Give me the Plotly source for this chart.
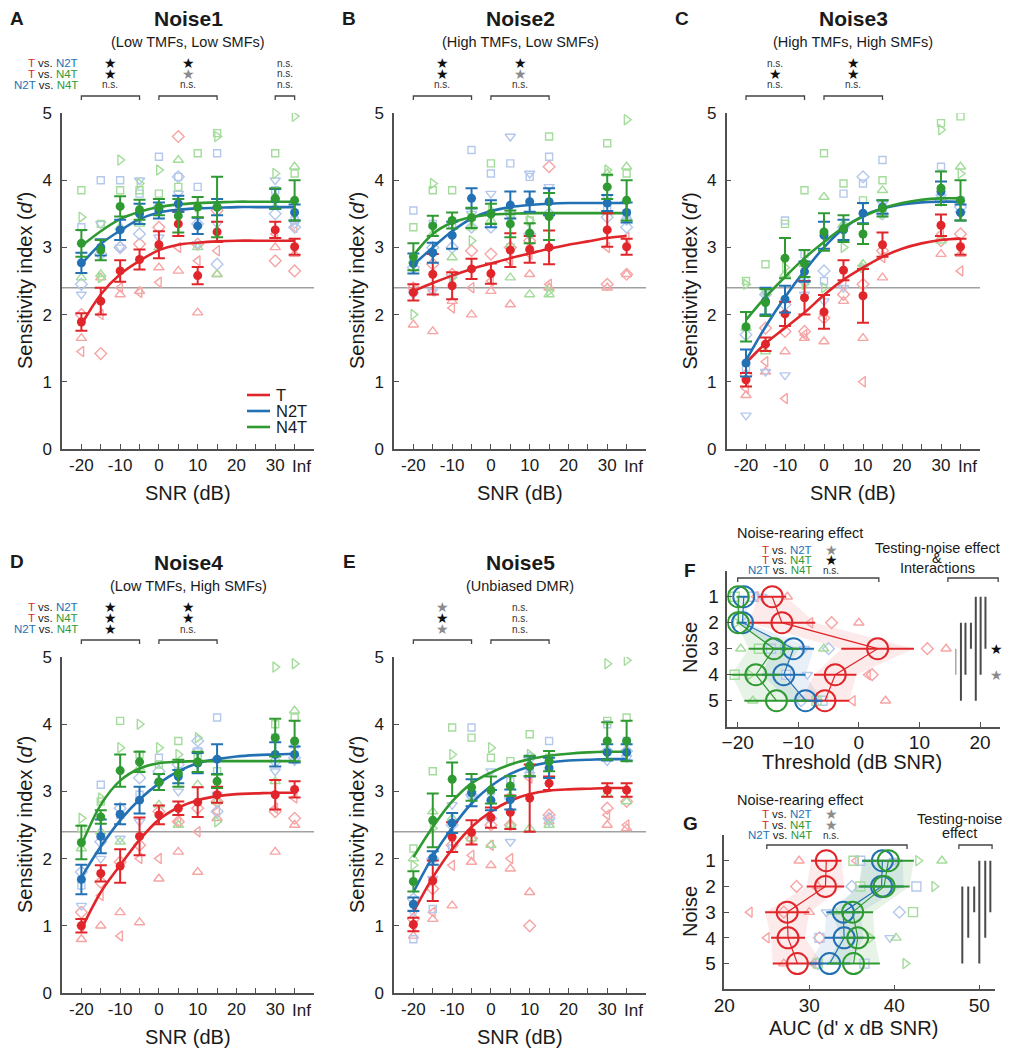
import plotly.graph_objects as go

# page is 1012 x 1050; the html body adds an 8 px margin, so the figure itself is 8 px smaller
PAGE_W, PAGE_H = 1012, 1050
OFF = 8
W, H = PAGE_W - OFF, PAGE_H - OFF
FONT = 'Arial, Liberation Sans, Helvetica, sans-serif'
RED, BLUE, GREEN = '#e0262a', '#2271b5', '#2f9a31'
RED_L, BLUE_L, GREEN_L = '#f7a4a4', '#b4c8ec', '#a4dc9c'
RED_F, BLUE_F, GREEN_F = 'rgba(240,90,90,0.12)', 'rgba(70,120,190,0.12)', 'rgba(60,160,60,0.12)'
AXC = '#505050'
TXT = '#1a1a1a'

# ---------------- panels A-E : sensitivity index vs SNR ----------------
snr = [-20, -15, -10, -5, 0, 5, 10, 15, 30, 35]          # 35 plotted as "Inf"
snr_ticks = [-20, -15, -10, -5, 0, 5, 10, 15, 20, 25, 30, 35]
snr_text = ['-20', '', '-10', '', '0', '', '10', '', '20', '', '30', '']
fit_snr = [-20, -15, -10, -5, 0, 5, 10, 15, 20, 25, 30, 35]

# Noise1
n1_t = [1.89, 2.20, 2.65, 2.82, 3.04, 3.35, 2.58, 3.23, 3.26, 3.01]
n1_t_err = [0.13, 0.2, 0.16, 0.15, 0.2, 0.18, 0.13, 0.15, 0.12, 0.12]
n1_n2t = [2.77, 3.0, 3.26, 3.5, 3.55, 3.65, 3.32, 3.6, 3.72, 3.52]
n1_n2t_err = [0.15, 0.12, 0.15, 0.15, 0.12, 0.12, 0.12, 0.12, 0.15, 0.12]
n1_n4t = [3.06, 2.96, 3.61, 3.56, 3.6, 3.47, 3.6, 3.6, 3.73, 3.7]
n1_n4t_err = [0.2, 0.15, 0.15, 0.15, 0.12, 0.25, 0.15, 0.45, 0.15, 0.3]
n1_t_fit = [1.85, 2.3, 2.6, 2.8, 2.96, 3.04, 3.07, 3.09, 3.1, 3.1, 3.1, 3.1]
n1_n2t_fit = [2.75, 3.05, 3.25, 3.42, 3.52, 3.56, 3.58, 3.59, 3.6, 3.6, 3.6, 3.6]
n1_n4t_fit = [3.02, 3.24, 3.42, 3.53, 3.6, 3.64, 3.66, 3.67, 3.68, 3.68, 3.68, 3.68]
n1_t_ind = [[1.65, 2.55, 2.3, 2.35, 2.7, 2.65, 2.03, 2.6, 3.0, 2.9],
            [1.45, 2.0, 2.4, 2.33, 2.48, 3.0, 2.8, 2.95, 3.2, 3.3],
            [2.0, 1.42, 3.0, 3.05, 3.3, 4.65, 3.05, 3.55, 2.8, 2.65]]
n1_n2t_ind = [[3.3, 4.0, 4.0, 3.8, 4.35, 4.05, 3.9, 4.4, 3.85, 3.4],
              [2.3, 3.35, 3.0, 4.0, 3.15, 3.8, 3.05, 3.35, 4.0, 3.35],
              [2.45, 2.9, 3.0, 3.2, 3.6, 4.05, 3.35, 2.75, 3.5, 3.3]]
n1_n4t_ind = [[3.85, 3.35, 3.85, 3.85, 3.8, 3.9, 4.4, 4.7, 4.4, 4.1],
              [3.45, 2.55, 4.3, 3.95, 4.15, 3.55, 3.6, 4.65, 4.1, 4.95],
              [2.55, 2.6, 3.3, 3.35, 3.0, 4.3, 3.0, 2.6, 3.6, 4.2]]
n1_stats = [['k', 'k', 'ns'], ['k', 'g', 'ns'], ['ns', 'ns', 'ns']]

# Noise2
n2_t = [2.33, 2.6, 2.43, 2.68, 2.61, 2.96, 2.97, 3.0, 3.26, 3.01]
n2_t_err = [0.12, 0.3, 0.2, 0.15, 0.15, 0.25, 0.2, 0.25, 0.25, 0.12]
n2_n2t = [2.76, 2.92, 3.18, 3.73, 3.5, 3.63, 3.68, 3.68, 3.66, 3.52]
n2_n2t_err = [0.15, 0.15, 0.2, 0.15, 0.2, 0.2, 0.15, 0.2, 0.12, 0.15]
n2_n4t = [2.86, 3.32, 3.4, 3.44, 3.5, 3.35, 3.21, 3.46, 3.9, 3.7]
n2_n4t_err = [0.2, 0.15, 0.12, 0.15, 0.15, 0.2, 0.15, 0.35, 0.18, 0.3]
n2_t_fit = [2.35, 2.47, 2.58, 2.68, 2.76, 2.84, 2.91, 2.98, 3.04, 3.09, 3.14, 3.17]
n2_n2t_fit = [2.74, 3.0, 3.24, 3.43, 3.54, 3.6, 3.63, 3.65, 3.66, 3.66, 3.66, 3.66]
n2_n4t_fit = [2.88, 3.2, 3.37, 3.45, 3.49, 3.5, 3.51, 3.51, 3.51, 3.51, 3.51, 3.51]
n2_t_ind = [[1.85, 1.75, 2.2, 2.0, 2.35, 2.15, 2.6, 2.4, 2.4, 2.6],
            [2.35, 2.35, 2.1, 2.4, 2.5, 2.8, 2.9, 2.45, 3.0, 3.15],
            [2.4, 2.75, 2.6, 2.95, 2.9, 3.0, 3.1, 4.2, 2.45, 2.6]]
n2_n2t_ind = [[3.55, 3.35, 3.35, 4.45, 4.1, 4.25, 4.05, 4.35, 3.6, 3.5],
              [2.3, 2.35, 2.55, 3.5, 3.8, 4.65, 4.1, 3.9, 3.75, 3.4],
              [2.7, 3.0, 3.0, 3.3, 3.3, 3.5, 3.2, 3.5, 3.45, 3.3]]
n2_n4t_ind = [[3.3, 3.85, 3.85, 3.45, 4.25, 3.0, 3.4, 4.65, 4.55, 4.1],
              [2.0, 3.95, 2.55, 3.1, 3.55, 3.45, 3.4, 2.35, 4.15, 4.9],
              [2.8, 3.2, 2.85, 3.3, 3.4, 2.55, 2.3, 2.3, 4.1, 4.2]]
n2_stats = [['k', 'k', 'ns'], ['k', 'g', 'ns']]

# Noise3
n3_t = [1.03, 1.56, 2.01, 2.25, 2.04, 2.66, 2.28, 3.04, 3.33, 3.01]
n3_t_err = [0.1, 0.1, 0.18, 0.25, 0.25, 0.15, 0.4, 0.18, 0.16, 0.12]
n3_n2t = [1.28, 2.2, 2.23, 2.64, 3.18, 3.26, 3.51, 3.6, 3.83, 3.52]
n3_n2t_err = [0.2, 0.2, 0.2, 0.15, 0.2, 0.15, 0.15, 0.1, 0.15, 0.12]
n3_n4t = [1.82, 2.18, 2.84, 2.76, 3.23, 3.28, 3.2, 3.58, 3.88, 3.7]
n3_n4t_err = [0.22, 0.2, 0.3, 0.2, 0.28, 0.2, 0.15, 0.12, 0.25, 0.3]
n3_t_fit = [1.28, 1.57, 1.8, 2.03, 2.29, 2.52, 2.7, 2.86, 2.98, 3.06, 3.11, 3.13]
n3_n2t_fit = [1.32, 1.82, 2.26, 2.65, 3.0, 3.28, 3.47, 3.58, 3.64, 3.67, 3.68, 3.68]
n3_n4t_fit = [1.92, 2.26, 2.56, 2.84, 3.08, 3.3, 3.46, 3.58, 3.66, 3.71, 3.73, 3.73]
n3_t_ind = [[0.8, 1.15, 1.45, 1.65, 1.6, 2.2, 1.65, 2.55, 2.9, 2.9],
            [0.9, 1.3, 0.75, 1.7, 2.0, 2.45, 1.0, 2.85, 3.2, 2.65],
            [1.1, 1.8, 1.75, 1.75, 1.95, 2.3, 2.45, 2.95, 3.1, 3.2]]
n3_n2t_ind = [[1.2, 2.35, 3.4, 2.9, 2.5, 3.8, 3.95, 4.3, 4.2, 3.7],
              [0.5, 1.15, 1.1, 2.3, 2.2, 2.4, 2.7, 3.65, 3.75, 3.5],
              [1.7, 2.3, 2.15, 2.5, 2.65, 3.3, 4.05, 3.5, 3.7, 3.6]]
n3_n4t_ind = [[2.5, 2.75, 3.35, 3.85, 4.4, 3.95, 3.7, 4.0, 4.85, 4.95],
              [2.45, 2.3, 2.7, 2.45, 2.4, 3.0, 2.7, 3.5, 4.75, 4.1],
              [1.8, 1.45, 2.6, 2.75, 3.75, 3.35, 2.75, 3.85, 3.1, 4.2]]
n3_stats = [['ns', 'k', 'ns'], ['k', 'k', 'ns']]

# Noise4
n4_t = [1.0, 1.78, 1.89, 2.33, 2.65, 2.75, 2.84, 2.95, 2.95, 3.03]
n4_t_err = [0.1, 0.12, 0.25, 0.28, 0.14, 0.1, 0.22, 0.12, 0.22, 0.12]
n4_n2t = [1.69, 2.33, 2.66, 2.87, 3.14, 3.22, 3.42, 3.48, 3.55, 3.55]
n4_n2t_err = [0.22, 0.25, 0.15, 0.2, 0.12, 0.1, 0.15, 0.22, 0.18, 0.12]
n4_n4t = [2.24, 2.62, 3.31, 3.44, 3.14, 3.27, 3.44, 3.15, 3.8, 3.75]
n4_n4t_err = [0.25, 0.1, 0.24, 0.15, 0.12, 0.2, 0.15, 0.1, 0.28, 0.3]
n4_t_fit = [0.95, 1.5, 1.9, 2.28, 2.58, 2.76, 2.87, 2.93, 2.96, 2.97, 2.98, 2.98]
n4_n2t_fit = [1.72, 2.18, 2.57, 2.88, 3.12, 3.3, 3.42, 3.48, 3.52, 3.54, 3.55, 3.56]
n4_n4t_fit = [2.2, 2.8, 3.16, 3.34, 3.42, 3.44, 3.45, 3.45, 3.45, 3.45, 3.45, 3.45]
n4_t_ind = [[0.8, 1.0, 1.2, 1.05, 1.7, 2.1, 1.8, 2.6, 2.1, 2.5],
            [1.0, 1.45, 0.85, 2.0, 2.0, 2.55, 2.4, 2.7, 2.75, 2.9],
            [1.2, 1.65, 1.95, 2.2, 2.7, 2.55, 2.75, 2.85, 2.7, 2.6]]
n4_n2t_ind = [[1.6, 3.1, 2.65, 2.95, 3.5, 3.3, 3.6, 4.1, 3.8, 3.7],
              [1.3, 2.0, 2.3, 2.55, 3.1, 3.0, 3.6, 2.95, 3.3, 3.45],
              [1.8, 2.25, 2.75, 3.2, 3.3, 3.4, 3.75, 2.7, 3.45, 3.5]]
n4_n4t_ind = [[2.45, 2.85, 4.05, 3.55, 3.4, 3.75, 3.5, 3.3, 4.0, 4.1],
              [2.6, 2.9, 3.65, 4.0, 3.65, 3.55, 3.8, 2.55, 4.85, 4.9],
              [2.15, 2.4, 2.25, 3.35, 2.8, 2.5, 3.1, 2.85, 3.15, 4.2]]
n4_stats = [['k', 'k', 'k'], ['k', 'k', 'ns']]

# Noise5
n5_t = [1.02, 1.67, 2.32, 2.39, 2.61, 2.69, 2.9, 3.12, 3.02, 3.02]
n5_t_err = [0.1, 0.3, 0.22, 0.18, 0.15, 0.25, 0.5, 0.1, 0.1, 0.1]
n5_n2t = [1.32, 2.01, 2.53, 2.98, 2.87, 2.88, 3.37, 3.35, 3.58, 3.58]
n5_n2t_err = [0.1, 0.1, 0.15, 0.2, 0.15, 0.15, 0.15, 0.15, 0.12, 0.12]
n5_n4t = [1.66, 2.57, 3.18, 3.06, 3.02, 3.08, 3.38, 3.45, 3.75, 3.75]
n5_n4t_err = [0.15, 0.4, 0.25, 0.2, 0.2, 0.15, 0.15, 0.15, 0.28, 0.3]
n5_t_fit = [1.2, 1.72, 2.14, 2.47, 2.7, 2.86, 2.96, 3.01, 3.03, 3.04, 3.05, 3.05]
n5_n2t_fit = [1.5, 2.03, 2.46, 2.82, 3.08, 3.26, 3.37, 3.43, 3.46, 3.47, 3.48, 3.48]
n5_n4t_fit = [2.02, 2.47, 2.85, 3.12, 3.28, 3.4, 3.48, 3.53, 3.56, 3.58, 3.59, 3.59]
n5_t_ind = [[0.85, 1.1, 1.3, 1.95, 1.9, 1.85, 1.5, 2.55, 2.5, 2.45],
            [1.0, 1.2, 1.9, 2.05, 2.2, 2.0, 3.2, 2.6, 2.65, 2.5],
            [1.1, 1.55, 2.2, 2.3, 2.5, 2.5, 1.0, 2.65, 2.75, 2.85]]
n5_n2t_ind = [[0.8, 1.25, 2.15, 3.95, 3.0, 3.15, 3.35, 3.75, 4.0, 3.75],
              [1.2, 1.7, 2.8, 2.9, 3.3, 2.25, 3.25, 2.55, 3.45, 3.5],
              [1.4, 2.0, 2.5, 2.95, 2.6, 2.9, 3.5, 2.6, 3.6, 3.6]]
n5_n4t_ind = [[2.15, 3.3, 3.95, 3.8, 3.5, 3.45, 3.85, 3.5, 4.05, 4.1],
              [1.9, 2.45, 3.55, 3.0, 3.65, 2.9, 3.55, 3.45, 4.9, 4.95],
              [2.0, 2.7, 2.6, 2.3, 2.2, 2.5, 2.45, 2.5, 2.95, 2.85]]
n5_stats = [['g', 'k', 'g'], ['ns', 'ns', 'ns']]

bracket_ranges = [(-20, -5), (0, 15), (30, 35)]

# ---------------- panels F, G : threshold and AUC per noise ----------------
noise = [1, 2, 3, 4, 5]
f_t = [-14.3, -12.7, 3.1, -3.9, -5.6]
f_t_err = [2.3, 5.5, 6.0, 3.5, 4.0]
f_n2t = [-19.0, -19.2, -10.8, -12.4, -8.8]
f_n2t_err = [0.7, 0.7, 3.4, 3.6, 2.8]
f_n4t = [-19.9, -19.9, -14.0, -17.0, -13.6]
f_n4t_err = [0.3, 0.3, 4.2, 4.0, 5.3]
f_t_pts_noise = [1, 1, 2, 2, 2, 3, 3, 4, 4, 5, 5]
f_t_pts = [-11.8, -17.0, -4.5, 0.0, -8.0, 11.3, 14.4, 1.5, 2.2, 4.4, -1.0]
f_n2t_pts_noise = [1, 1, 2, 3, 3, 3, 4, 4, 5, 5]
f_n2t_pts = [-17.5, -16.0, -18.5, -14.5, -9.0, -5.0, -12.0, -8.5, -9.5, -6.0]
f_n4t_pts_noise = [1, 2, 3, 3, 3, 3, 4, 4, 5, 5]
f_n4t_pts = [-20.5, -20.3, -19.5, -16.5, -12.5, -5.8, -20.5, -18.0, -17.5, -7.0]
f_sig_x = [16.0, 16.85, 17.6, 18.5, 19.3, 20.1, 20.9]
f_sig_from = [3, 2, 2, 2, 1, 1, 1]
f_sig_to = [4, 5, 4, 3, 5, 4, 3]
f_stats = ['g', 'k', 'ns']

g_t = [32.0, 31.9, 27.4, 27.5, 28.6]
g_t_err = [1.8, 2.2, 2.6, 2.0, 2.9]
g_n2t = [38.6, 38.5, 34.0, 34.1, 32.4]
g_n2t_err = [2.4, 2.6, 2.0, 2.3, 2.4]
g_n4t = [39.3, 38.8, 35.1, 35.7, 35.2]
g_n4t_err = [3.0, 3.0, 2.4, 2.0, 3.1]
g_t_pts_noise = [1, 1, 2, 2, 3, 3, 3, 4, 4, 5, 5]
g_t_pts = [28.8, 35.5, 28.5, 31.0, 23.0, 27.0, 30.0, 25.0, 31.2, 27.0, 30.5]
g_n2t_pts_noise = [1, 1, 2, 2, 3, 3, 4, 4, 5, 5]
g_n2t_pts = [36.0, 40.0, 35.0, 42.6, 32.0, 40.6, 31.2, 39.5, 31.0, 36.5]
g_n4t_pts_noise = [1, 1, 1, 2, 2, 3, 3, 4, 4, 5, 5]
g_n4t_pts = [35.2, 42.8, 45.6, 36.0, 44.7, 33.0, 42.2, 37.2, 40.2, 31.0, 41.3]
g_sig_x = [48.0, 48.7, 49.4, 50.0, 50.7, 51.3]
g_sig_from = [2, 2, 2, 1, 1, 1]
g_sig_to = [5, 4, 3, 5, 4, 3]
g_stats = ['g', 'g', 'ns']


def fx(p):
    return (p - OFF) / W


def fy(p):
    return 1 - (p - OFF) / H


def axn(k):
    return ('x', 'y') if k == 1 else (f'x{k}', f'y{k}')


fig = go.Figure()
annotations = []
shapes = []
layout = {}


def ann(x, y, text, size, color=TXT, bold=False, xref='paper', yref='paper',
        xanchor='center', yanchor='middle', angle=0):
    if bold:
        text = '<b>' + text + '</b>'
    annotations.append(dict(x=x, y=y, xref=xref, yref=yref, text=text, showarrow=False,
                            font=dict(size=size, color=color, family=FONT),
                            xanchor=xanchor, yanchor=yanchor, textangle=angle))


def axis_style(**kw):
    d = dict(showline=True, linecolor=AXC, linewidth=1.5, ticks='inside', ticklen=5,
             tickwidth=1.2, tickcolor=AXC, showgrid=False, zeroline=False, automargin=False,
             tickangle=0, tickfont=dict(size=17, color=TXT, family=FONT), ticklabelstandoff=5)
    d.update(kw)
    return d


def sig_mark(x, y, s, xref):
    if s == 'ns':
        ann(x, y, 'n.s.', 10, '#333', xref=xref)
    else:
        ann(x, y, '★', 14, '#111' if s == 'k' else '#8c8c8c', xref=xref)


def bracket(x0, x1, ypx, xref):
    shapes.append(dict(type='path', xref=xref, yref='paper',
                       path=f'M {x0},{fy(ypx + 4)} L {x0},{fy(ypx)} L {x1},{fy(ypx)} L {x1},{fy(ypx + 4)}',
                       line=dict(color='#444', width=1.3)))


def row_label(a, ca, b, cb):
    return f'<span style="color:{ca}">{a}</span> vs. <span style="color:{cb}">{b}</span>'


row_names = [row_label('T', RED, 'N2T', BLUE), row_label('T', RED, 'N4T', GREEN),
             row_label('N2T', BLUE, 'N4T', GREEN)]

sym_t = ['triangle-up-open', 'triangle-left-open', 'diamond-open']
sym_n2t = ['square-open', 'triangle-down-open', 'diamond-open']
sym_n4t = ['square-open', 'triangle-right-open', 'triangle-up-open']

panels = [
    dict(k=1, letter='A', title='Noise1', sub='(Low TMFs, Low SMFs)', xpx=(62, 314), top=True,
         groups=[(n1_t, n1_t_err, n1_t_fit, n1_t_ind), (n1_n2t, n1_n2t_err, n1_n2t_fit, n1_n2t_ind),
                 (n1_n4t, n1_n4t_err, n1_n4t_fit, n1_n4t_ind)], stats=n1_stats, rows=True),
    dict(k=2, letter='B', title='Noise2', sub='(High TMFs, Low SMFs)', xpx=(394, 646), top=True,
         groups=[(n2_t, n2_t_err, n2_t_fit, n2_t_ind), (n2_n2t, n2_n2t_err, n2_n2t_fit, n2_n2t_ind),
                 (n2_n4t, n2_n4t_err, n2_n4t_fit, n2_n4t_ind)], stats=n2_stats, rows=False),
    dict(k=3, letter='C', title='Noise3', sub='(High TMFs, High SMFs)', xpx=(726.5, 980), top=True,
         groups=[(n3_t, n3_t_err, n3_t_fit, n3_t_ind), (n3_n2t, n3_n2t_err, n3_n2t_fit, n3_n2t_ind),
                 (n3_n4t, n3_n4t_err, n3_n4t_fit, n3_n4t_ind)], stats=n3_stats, rows=False),
    dict(k=4, letter='D', title='Noise4', sub='(Low TMFs, High SMFs)', xpx=(62, 314), top=False,
         groups=[(n4_t, n4_t_err, n4_t_fit, n4_t_ind), (n4_n2t, n4_n2t_err, n4_n2t_fit, n4_n2t_ind),
                 (n4_n4t, n4_n4t_err, n4_n4t_fit, n4_n4t_ind)], stats=n4_stats, rows=True),
    dict(k=5, letter='E', title='Noise5', sub='(Unbiased DMR)', xpx=(394, 646), top=False,
         groups=[(n5_t, n5_t_err, n5_t_fit, n5_t_ind), (n5_n2t, n5_n2t_err, n5_n2t_fit, n5_n2t_ind),
                 (n5_n4t, n5_n4t_err, n5_n4t_fit, n5_n4t_ind)], stats=n5_stats, rows=False),
]

colors = [RED, BLUE, GREEN]
light = [RED_L, BLUE_L, GREEN_L]
syms = [sym_t, sym_n2t, sym_n4t]

for p in panels:
    k = p['k']
    xa, ya = axn(k)
    suffix = '' if k == 1 else str(k)
    if p['top']:
        y_bot, y_top, off = 449, 113, 0
    else:
        y_bot, y_top, off = 993, 657, 544
    layout['xaxis' + suffix] = axis_style(domain=[fx(p['xpx'][0]), fx(p['xpx'][1])], range=[-25, 40],
                                          tickvals=snr_ticks, ticktext=snr_text, anchor=ya,
                                          ticklabelstandoff=0)
    layout['yaxis' + suffix] = axis_style(domain=[fy(y_bot), fy(y_top)], range=[0, 5],
                                          tickvals=[0, 1, 2, 3, 4, 5], anchor=xa)
    shapes.append(dict(type='line', xref=xa + ' domain', x0=0, x1=1, yref=ya, y0=2.4, y1=2.4,
                       line=dict(color='#a0a0a0', width=1.5), layer='below'))
    # individual animals
    for gi, (m, e, fit, ind) in enumerate(p['groups']):
        for row, sym in zip(ind, syms[gi]):
            fig.add_trace(go.Scatter(x=snr, y=row, mode='markers', xaxis=xa, yaxis=ya, hoverinfo='skip',
                                     marker=dict(symbol=sym, size=7 if 'square' in sym else 9,
                                                 color=light[gi], line=dict(width=1.4, color=light[gi]))))
    # fitted curves
    for gi, (m, e, fit, ind) in enumerate(p['groups']):
        fig.add_trace(go.Scatter(x=fit_snr, y=fit, mode='lines', xaxis=xa, yaxis=ya,
                                 line=dict(color=colors[gi], width=2.6, shape='spline', smoothing=1.0)))
    # means
    for gi, (m, e, fit, ind) in enumerate(p['groups']):
        fig.add_trace(go.Scatter(x=snr, y=m, mode='markers', xaxis=xa, yaxis=ya,
                                 marker=dict(color=colors[gi], size=9),
                                 error_y=dict(type='data', array=e, color=colors[gi], thickness=2, width=6)))
    # titles and labels
    cx = (p['xpx'][0] + p['xpx'][1]) / 2
    ann(fx(cx), fy(18 + off), p['title'], 21, bold=True)
    ann(fx(cx), fy(42 + off), p['sub'], 14.5)
    ann(fx(p['xpx'][0] - 45), fy(19 + off + (0 if p['top'] else -2)), p['letter'], 19, bold=True)
    ann(fx(p['xpx'][0] - 37), fy((y_bot + y_top) / 2), 'Sensitivity index (<i>d\'</i>)', 20, angle=-90)
    ann(fx(cx), fy(y_bot + 44), 'SNR (dB)', 20)
    ann(36.9, fy(y_bot + 17), 'Inf', 17, xref=xa)
    rows_y = [63 + off, 74 + off, 85 + off]
    for ci, col in enumerate(p['stats']):
        x0, x1 = bracket_ranges[ci]
        for ri, s in enumerate(col):
            sig_mark((x0 + x1) / 2, fy(rows_y[ri]), s, xa)
        bracket(x0, x1, 96 + off, xa)
    if p['rows']:
        for ri, name in enumerate(row_names):
            ann(fx(80), fy(rows_y[ri]), name, 11.5, xanchor='right')

# legend in panel A
for i, (name, c) in enumerate(zip(['T', 'N2T', 'N4T'], colors)):
    ly = 395 + i * 16
    shapes.append(dict(type='line', xref='paper', yref='paper', x0=fx(247), x1=fx(270),
                       y0=fy(ly), y1=fy(ly), line=dict(color=c, width=2.6)))
    ann(fx(274), fy(ly), name, 16.5, xanchor='left')


# ---------------- F and G ----------------
def noise_panel(k, groups, pts, sig_x, sig_from, sig_to, xpx, ypx, xrange, xticks):
    xa, ya = axn(k)
    layout[f'xaxis{k}'] = axis_style(domain=[fx(xpx[0]), fx(xpx[1])], range=xrange, tickvals=xticks,
                                     anchor=ya, ticklabelstandoff=-2,
                                     tickfont=dict(size=19, color=TXT, family=FONT))
    layout[f'yaxis{k}'] = axis_style(domain=[fy(ypx[0]), fy(ypx[1])], range=[6, 0], tickvals=noise,
                                     anchor=xa, ticklabelstandoff=3,
                                     tickfont=dict(size=19, color=TXT, family=FONT))
    fills = [RED_F, BLUE_F, GREEN_F]
    for gi, (m, e) in enumerate(groups):
        lo = [a - b for a, b in zip(m, e)]
        hi = [a + b for a, b in zip(m, e)]
        fig.add_trace(go.Scatter(x=lo + hi[::-1], y=noise + noise[::-1], mode='lines', fill='toself',
                                 fillcolor=fills[gi], line=dict(width=0), xaxis=xa, yaxis=ya,
                                 hoverinfo='skip'))
    for gi, (pn, pv) in enumerate(pts):
        fig.add_trace(go.Scatter(x=pv, y=pn, mode='markers', xaxis=xa, yaxis=ya, hoverinfo='skip',
                                 marker=dict(symbol=[syms[gi][j % 3] for j in range(len(pv))], size=9,
                                             color=light[gi], line=dict(width=1.4, color=light[gi]))))
    for gi, (m, e) in enumerate(groups):
        fig.add_trace(go.Scatter(x=m, y=noise, mode='lines+markers', xaxis=xa, yaxis=ya,
                                 line=dict(color=colors[gi], width=1.2),
                                 marker=dict(symbol='circle-open', size=21, color=colors[gi],
                                             line=dict(width=2, color=colors[gi])),
                                 error_x=dict(type='data', array=e, color=colors[gi], thickness=2, width=0)))
    sx, sy, sx2, sy2 = [], [], [], []
    for i, (x, a, b) in enumerate(zip(sig_x, sig_from, sig_to)):
        if k == 6 and i == 0:
            sx2 += [x, x, None]
            sy2 += [a, b, None]
        else:
            sx += [x, x, None]
            sy += [a, b, None]
    fig.add_trace(go.Scatter(x=sx, y=sy, mode='lines', line=dict(color='#4a4a4a', width=2),
                             xaxis=xa, yaxis=ya, hoverinfo='skip'))
    if sx2:
        fig.add_trace(go.Scatter(x=sx2, y=sy2, mode='lines', line=dict(color='#a8a8a8', width=1.5),
                                 xaxis=xa, yaxis=ya, hoverinfo='skip'))
    return xa, ya


xa6, ya6 = noise_panel(6, [(f_t, f_t_err), (f_n2t, f_n2t_err), (f_n4t, f_n4t_err)],
                       [(f_t_pts_noise, f_t_pts), (f_n2t_pts_noise, f_n2t_pts), (f_n4t_pts_noise, f_n4t_pts)],
                       f_sig_x, f_sig_from, f_sig_to, (727.4, 1000), (726.7, 570.7), [-21.7, 23.3],
                       [-20, -10, 0, 10, 20])
xa7, ya7 = noise_panel(7, [(g_t, g_t_err), (g_n2t, g_n2t_err), (g_n4t, g_n4t_err)],
                       [(g_t_pts_noise, g_t_pts), (g_n2t_pts_noise, g_n2t_pts), (g_n4t_pts_noise, g_n4t_pts)],
                       g_sig_x, g_sig_from, g_sig_to, (724.3, 994.6), (989.3, 835), [20, 51.8],
                       [20, 30, 40, 50])

# F texts
ann(fx(690), fy(570), 'F', 19, bold=True)
ann(fx(800), fy(533), 'Noise-rearing effect', 14.5)
for ri, name in enumerate(row_names):
    ann(fx(814), fy(550 + ri * 10), name, 11.5, xanchor='right')
    sig_mark(fx(831), fy(550 + ri * 10), f_stats[ri], 'paper')
bracket(-20, 3.3, 578, xa6)
ann(fx(937), fy(548), 'Testing-noise effect', 14.5)
ann(fx(937), fy(558), '&', 14.5)
ann(fx(937), fy(568), 'Interactions', 14.5)
bracket(14.7, 23.0, 578, xa6)
ann(22.8, 3, '★', 14, '#111', xref=xa6, yref=ya6)
ann(22.8, 4, '★', 14, '#8c8c8c', xref=xa6, yref=ya6)
ann(fx(690), fy(648), 'Noise', 20, angle=-90)
ann(fx(852), fy(762), 'Threshold (dB SNR)', 20)

# G texts
ann(fx(690), fy(823), 'G', 19, bold=True)
ann(fx(800), fy(800), 'Noise-rearing effect', 14.5)
for ri, name in enumerate(row_names):
    ann(fx(814), fy(814 + ri * 10.5), name, 11.5, xanchor='right')
    sig_mark(fx(831), fy(814 + ri * 10.5), g_stats[ri], 'paper')
bracket(25, 41.5, 845, xa7)
ann(fx(959), fy(819), 'Testing-noise', 14.5)
ann(fx(959), fy(833), 'effect', 14.5)
bracket(47.6, 51.5, 845, xa7)
ann(fx(690), fy(912), 'Noise', 20, angle=-90)
ann(fx(853), fy(1028), 'AUC (d\' x dB SNR)', 20)

fig.update_layout(template='none', width=W, height=H, margin=dict(l=0, r=0, t=0, b=0, pad=0),
                  showlegend=False, paper_bgcolor='white', plot_bgcolor='white',
                  font=dict(family=FONT, color=TXT), annotations=annotations, shapes=shapes, **layout)
fig.write_html('out.html')
